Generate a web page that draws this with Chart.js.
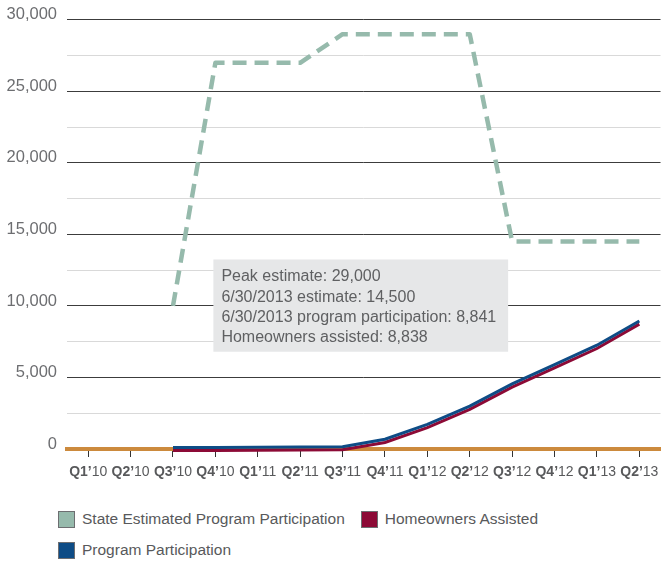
<!DOCTYPE html>
<html>
<head>
<meta charset="utf-8">
<script src="https://cdn.jsdelivr.net/npm/chart.js@4/dist/chart.umd.min.js"></script>
<style>
  body { margin: 0; background: #fff; }
  #wrap { position: relative; width: 661px; height: 562px; }
  #legend {
    position: absolute; left: 58px; top: 510px; width: 603px;
    display: flex; flex-wrap: wrap; row-gap: 13px;
    font-family: "Liberation Sans", Arial, sans-serif;
    font-size: 15.5px; color: #58595b; line-height: 18px;
  }
  .item { display: flex; align-items: center; margin-right: 16px; white-space: nowrap; }
  .swatch { width: 15px; height: 15px; border: 1px solid #6d6e71; margin-right: 7px; }
</style>
</head>
<body>
<div id="wrap">
  <canvas id="hhfChart" width="661" height="490"></canvas>
  <div id="legend"></div>
</div>
<script>
const quarters = ['Q1’10', 'Q2’10', 'Q3’10', 'Q4’10', 'Q1’11', 'Q2’11', 'Q3’11',
  'Q4’11', 'Q1’12', 'Q2’12', 'Q3’12', 'Q4’12', 'Q1’13', 'Q2’13'];

const stateEstimate = [null, null, 10000, 27000, 27000, 27000, 29000, 29000, 29000, 29000, 14500, 14500, 14500, 14500];
const programParticipation = [null, null, 0, 5, 15, 30, 60, 580, 1620, 2900, 4450, 5800, 7150, 8841];
const homeownersAssisted = [null, null, 0, 5, 15, 30, 55, 560, 1600, 2880, 4430, 5780, 7130, 8838];

const noteLines = [
  'Peak estimate: 29,000',
  '6/30/2013 estimate: 14,500',
  '6/30/2013 program participation: 8,841',
  'Homeowners assisted: 8,838'
];

const FONT = '"Liberation Sans", Arial, sans-serif';
const colors = { estimate: '#96baac', program: '#0e4c86', assisted: '#8c0a36', zero: '#cc8a3d' };

// nudge the two participation lines apart so both stay visible
const lineShift = {
  id: 'lineShift',
  beforeDatasetDraw(chart, args) {
    const dy = chart.data.datasets[args.index].shiftY || 0;
    chart.ctx.save();
    chart.ctx.translate(0, dy);
  },
  afterDatasetDraw(chart) {
    chart.ctx.restore();
  }
};

// grey note box with the summary figures
const noteBox = {
  id: 'noteBox',
  beforeDatasetsDraw(chart) {
    const { ctx, scales: { x, y } } = chart;
    const left = x.getPixelForValue(3) - 2;
    const right = x.getPixelForValue(10) - 4;
    const top = y.getPixelForValue(13250);
    const bottom = y.getPixelForValue(6800);
    ctx.save();
    ctx.fillStyle = '#e6e7e8';
    ctx.fillRect(left, top, right - left, bottom - top);
    ctx.fillStyle = '#5f6062';
    ctx.font = '16px ' + FONT;
    ctx.textBaseline = 'alphabetic';
    noteLines.forEach((line, i) => ctx.fillText(line, left + 8, top + 22 + i * 20.3));
    ctx.restore();
  }
};

// quarter labels: bold "Qn’" followed by a regular year
const quarterLabels = {
  id: 'quarterLabels',
  afterDraw(chart) {
    const { ctx, chartArea, scales: { x } } = chart;
    const bold = 'bold 14px ' + FONT;
    const normal = '14px ' + FONT;
    ctx.save();
    ctx.fillStyle = '#58595b';
    ctx.textBaseline = 'alphabetic';
    ctx.textAlign = 'left';
    quarters.forEach((q, i) => {
      const cut = q.indexOf('’') + 1;
      const head = q.slice(0, cut), tail = q.slice(cut);
      ctx.font = bold; const w1 = ctx.measureText(head).width;
      ctx.font = normal; const w2 = ctx.measureText(tail).width;
      const sx = x.getPixelForTick(i) - (w1 + w2) / 2;
      ctx.font = bold; ctx.fillText(head, sx, chartArea.bottom + 27);
      ctx.font = normal; ctx.fillText(tail, sx + w1, chartArea.bottom + 27);
    });
    ctx.restore();
  }
};

const chart = new Chart(document.getElementById('hhfChart'), {
  type: 'line',
  data: {
    labels: quarters,
    datasets: [
      {
        label: 'State Estimated Program Participation',
        data: stateEstimate,
        borderColor: colors.estimate,
        backgroundColor: colors.estimate,
        borderWidth: 4.5,
        borderDash: [14, 8],
        borderJoinStyle: 'round',
        pointRadius: 0,
        tension: 0,
        clip: false
      },
      {
        label: 'Program Participation',
        data: programParticipation,
        borderColor: colors.program,
        backgroundColor: colors.program,
        borderWidth: 3,
        pointRadius: 0,
        shiftY: -1.5,
        clip: false
      },
      {
        label: 'Homeowners Assisted',
        data: homeownersAssisted,
        borderColor: colors.assisted,
        backgroundColor: colors.assisted,
        borderWidth: 3,
        pointRadius: 0,
        shiftY: 1.5,
        clip: false
      }
    ]
  },
  options: {
    responsive: false,
    animation: false,
    layout: { padding: { top: 16, right: 0, bottom: 0, left: 0 } },
    plugins: { legend: { display: false }, tooltip: { enabled: false } },
    scales: {
      x: {
        offset: true,
        grid: { offset: false, drawOnChartArea: false, tickLength: 8, color: '#333', lineWidth: 1 },
        border: { color: colors.zero, width: 4 },
        ticks: { color: 'transparent', font: { size: 14, family: FONT }, autoSkip: false, maxRotation: 0 },
        afterFit(s) { s.height = 41; }
      },
      y: {
        min: 0,
        max: 30000,
        grid: {
          drawTicks: false,
          color: c => (c.tick.value % 5000 === 0 ? '#3c3c3c' : '#d9d9d9'),
          lineWidth: 1
        },
        border: { display: false },
        ticks: {
          stepSize: 2500,
          padding: 10,
          labelOffset: -5,
          color: '#6d6e71',
          font: { size: 16.5, family: FONT },
          callback: v => (v % 5000 === 0 ? v.toLocaleString('en-US') : '')
        },
        afterFit(s) { s.width = 67; }
      }
    }
  },
  plugins: [lineShift, noteBox, quarterLabels]
});

// legend, in the order it is listed under the chart
const legendOrder = [0, 2, 1];
const legendEl = document.getElementById('legend');
legendOrder.forEach(i => {
  const ds = chart.data.datasets[i];
  const item = document.createElement('div');
  item.className = 'item';
  const sw = document.createElement('span');
  sw.className = 'swatch';
  sw.style.background = ds.borderColor;
  const txt = document.createElement('span');
  txt.textContent = ds.label;
  item.appendChild(sw);
  item.appendChild(txt);
  legendEl.appendChild(item);
});
</script>
</body>
</html>
